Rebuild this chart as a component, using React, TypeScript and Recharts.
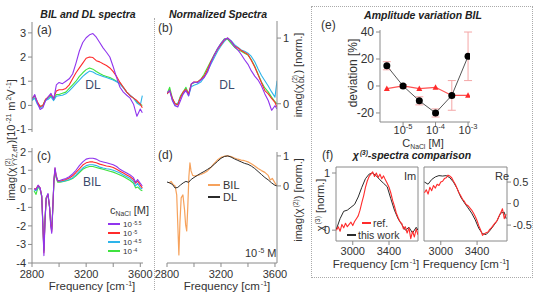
import React from "react";
import { LineChart, Line, XAxis, YAxis, ErrorBar, ReferenceArea } from "recharts";

const W = 534;
const H = 294;
const FONT = '"Liberation Sans", Arial, Helvetica, sans-serif';
const INK = "#333";
const AXIS = "#8a8a8a";
const PURPLE = "#9035ee";
const RED = "#ff2b2b";
const CYAN = "#2db4ea";
const GREEN = "#3fe23f";
const ORANGE = "#f6a25c";
const DARK = "#2b2b2b";
const PINK = "#f4a6a6";
const NAVY = "#3b4a6b";

// ---- DL spectra, panels (a) and (b)
const freqDL = [2800, 2820, 2840, 2860, 2880, 2900, 2920, 2940, 2960, 2980, 3000, 3025, 3050, 3075, 3100, 3125, 3150, 3175, 3200, 3225, 3250, 3275, 3300, 3325, 3350, 3375, 3400, 3425, 3450, 3475, 3500, 3525, 3550, 3575, 3600, 3615];
const dlPurple = [0.25, 0.45, 0.1, -0.17, -0.1, 0.2, 0.35, 0.5, 0.25, 0.85, 0.95, 0.9, 1.0, 1.1, 1.3, 1.75, 2.25, 2.6, 2.8, 2.92, 2.97, 2.82, 2.6, 2.38, 2.2, 2.0, 1.6, 1.15, 0.75, 0.55, 0.42, 0.3, 0.05, -0.45, -0.15, -0.3];
const dlRed = [0.3, 0.4, 0.15, -0.05, 0.0, 0.25, 0.35, 0.45, 0.3, 0.6, 0.65, 0.65, 0.7, 0.85, 1.1, 1.35, 1.55, 1.75, 1.95, 2.0, 1.98, 1.85, 1.8, 1.72, 1.65, 1.55, 1.4, 1.2, 0.95, 0.75, 0.55, 0.4, 0.3, 0.2, 0.05, -0.1];
const dlCyan = [0.2, 0.3, 0.05, -0.1, -0.05, 0.2, 0.25, 0.35, 0.2, 0.38, 0.4, 0.42, 0.48, 0.6, 0.75, 0.9, 1.05, 1.2, 1.32, 1.42, 1.38, 1.3, 1.25, 1.2, 1.15, 1.1, 1.05, 0.98, 0.88, 0.72, 0.55, 0.42, 0.3, 0.1, 0.0, 0.4];
const dlGreen = [0.2, 0.4, 0.1, -0.05, 0.0, 0.25, 0.3, 0.4, 0.25, 0.45, 0.45, 0.5, 0.55, 0.7, 0.85, 1.0, 1.2, 1.35, 1.48, 1.55, 1.5, 1.4, 1.32, 1.25, 1.2, 1.15, 1.08, 1.0, 0.92, 0.75, 0.55, 0.4, 0.3, 0.15, 0.05, 0.0];

const nPurple = [0.17, 0.2, 0.05, -0.03, -0.05, 0.05, 0.15, 0.2, 0.12, 0.3, 0.33, 0.32, 0.36, 0.4, 0.48, 0.62, 0.74, 0.84, 0.92, 0.98, 1.0, 0.95, 0.87, 0.82, 0.75, 0.67, 0.6, 0.5, 0.42, 0.36, 0.27, 0.15, 0.05, -0.1, -0.03, -0.08];
const nRed = [0.15, 0.2, 0.08, 0.0, -0.02, 0.1, 0.18, 0.22, 0.15, 0.3, 0.33, 0.33, 0.37, 0.42, 0.52, 0.64, 0.74, 0.83, 0.9, 0.97, 1.0, 0.95, 0.88, 0.85, 0.81, 0.78, 0.75, 0.66, 0.56, 0.44, 0.32, 0.2, 0.15, 0.08, 0.02, -0.05];
const nCyan = [0.15, 0.2, 0.05, -0.03, 0.0, 0.1, 0.15, 0.22, 0.12, 0.26, 0.28, 0.3, 0.33, 0.4, 0.5, 0.6, 0.7, 0.8, 0.88, 0.95, 1.0, 0.96, 0.9, 0.86, 0.82, 0.8, 0.77, 0.72, 0.64, 0.53, 0.43, 0.35, 0.27, 0.18, 0.1, 0.35];
const nGreen = [0.15, 0.25, 0.08, 0.0, 0.0, 0.12, 0.18, 0.25, 0.15, 0.3, 0.32, 0.33, 0.37, 0.45, 0.55, 0.65, 0.75, 0.84, 0.92, 0.99, 0.98, 0.92, 0.86, 0.82, 0.8, 0.77, 0.74, 0.67, 0.57, 0.45, 0.33, 0.24, 0.18, 0.1, 0.03, 0.0];

// ---- BIL spectra, panels (c) and (d)
const freqBIL = [2815, 2830, 2845, 2860, 2872, 2880, 2888, 2896, 2905, 2918, 2930, 2938, 2946, 2954, 2962, 2970, 2978, 2990, 3005, 3025, 3050, 3075, 3100, 3125, 3150, 3175, 3200, 3225, 3250, 3275, 3300, 3325, 3350, 3375, 3400, 3425, 3450, 3475, 3500, 3525, 3550, 3565, 3580, 3600, 3615];
const bilPurple = [0.0, -0.05, 0.2, 0.05, -0.4, -2.0, -3.6, -1.8, -0.5, -0.25, -1.0, -2.0, -2.4, -1.0, 0.5, 1.15, 0.75, 0.45, 0.45, 0.5, 0.55, 0.65, 0.8, 1.0, 1.25, 1.45, 1.6, 1.65, 1.65, 1.6, 1.5, 1.45, 1.4, 1.35, 1.3, 1.2, 1.05, 0.95, 0.85, 0.75, 0.6, 0.35, 0.5, 0.3, 0.15];
const bilRed = [0.0, 0.0, 0.18, 0.05, -0.4, -1.9, -3.45, -1.7, -0.5, -0.3, -1.0, -1.9, -2.3, -1.0, 0.45, 1.1, 0.7, 0.42, 0.42, 0.45, 0.5, 0.58, 0.7, 0.88, 1.08, 1.28, 1.4, 1.45, 1.45, 1.4, 1.33, 1.28, 1.23, 1.2, 1.15, 1.05, 0.95, 0.85, 0.75, 0.65, 0.5, 0.3, 0.42, 0.2, 0.05];
const bilCyan = [-0.05, -0.1, 0.15, 0.0, -0.4, -1.85, -3.35, -1.65, -0.5, -0.3, -1.0, -1.85, -2.2, -1.0, 0.4, 1.05, 0.65, 0.4, 0.38, 0.4, 0.45, 0.5, 0.6, 0.75, 0.95, 1.12, 1.25, 1.3, 1.3, 1.25, 1.17, 1.12, 1.08, 1.05, 1.0, 0.93, 0.85, 0.75, 0.65, 0.55, 0.4, 0.15, 0.3, 0.05, 0.0];
const bilGreen = [-0.1, -0.3, 0.1, -0.05, -0.45, -1.8, -3.3, -1.6, -0.5, -0.35, -1.0, -1.8, -2.15, -1.0, 0.35, 1.0, 0.6, 0.35, 0.35, 0.38, 0.42, 0.47, 0.55, 0.7, 0.88, 1.05, 1.15, 1.2, 1.2, 1.15, 1.1, 1.05, 1.0, 0.95, 0.9, 0.83, 0.75, 0.66, 0.56, 0.45, 0.3, 0.05, 0.1, -0.05, -0.1];
const bilNorm = [0.1, 0.15, 0.05, 0.0, -0.3, -1.3, -2.3, -1.2, -0.4, -0.3, -0.8, -1.3, -1.5, -0.7, 0.3, 0.77, 0.5, 0.35, 0.33, 0.35, 0.38, 0.43, 0.5, 0.62, 0.75, 0.87, 0.95, 0.99, 1.0, 0.98, 0.93, 0.89, 0.86, 0.84, 0.8, 0.74, 0.66, 0.58, 0.51, 0.45, 0.35, 0.2, 0.25, 0.1, 0.0];
const dlNorm = [0.13, 0.1, 0.05, -0.07, -0.05, 0.03, 0.1, 0.15, 0.12, 0.22, 0.28, 0.35, 0.42, 0.48, 0.55, 0.62, 0.72, 0.82, 0.92, 0.98, 1.0, 0.96, 0.9, 0.85, 0.8, 0.75, 0.72, 0.66, 0.58, 0.48, 0.38, 0.28, 0.2, 0.1, 0.02, 0.0];

// ---- amplitude variation, panel (e)
const concExp = [-5.5, -5, -4.5, -4, -3.5, -3];
const devBIL = [15, 0, -11, -20, -7, 22];
const devErr = [3, 1, 3, 3, 11, 18];
const devRed = [-2, 0, -2, -1, -7, -7];

// ---- chi(3) comparison, panel (f)
const freqWork = [2820, 2860, 2900, 2940, 2980, 3020, 3060, 3100, 3140, 3180, 3220, 3260, 3300, 3340, 3380, 3420, 3460, 3500, 3540, 3580, 3620, 3660, 3700, 3720];
const imWork = [0.02, 0.2, 0.33, 0.35, 0.4, 0.45, 0.58, 0.75, 0.9, 0.98, 1.0, 0.95, 0.88, 0.82, 0.76, 0.55, 0.35, 0.2, 0.1, 0.0, 0.05, -0.05, 0.05, 0.0];
const reWork = [0.5, 0.45, 0.56, 0.62, 0.65, 0.64, 0.65, 0.6, 0.5, 0.35, 0.15, 0.02, -0.1, -0.22, -0.38, -0.58, -0.7, -0.72, -0.63, -0.52, -0.4, -0.22, -0.2, -0.35];
const freqRef = [2820, 2840, 2860, 2880, 2900, 2920, 2940, 2960, 2980, 3000, 3020, 3040, 3060, 3080, 3100, 3120, 3140, 3160, 3180, 3200, 3220, 3240, 3260, 3280, 3300, 3320, 3340, 3360, 3380, 3400, 3420, 3440, 3460, 3480, 3500, 3520, 3540, 3560, 3580, 3600, 3620, 3640, 3660, 3680, 3700, 3720];
const imRef = [0.0, 0.06, -0.02, 0.1, 0.04, 0.12, 0.06, 0.1, 0.14, 0.08, 0.15, 0.2, 0.25, 0.35, 0.48, 0.6, 0.75, 0.86, 0.94, 0.98, 1.02, 0.94, 1.0, 0.92, 0.98, 0.9, 0.95, 0.88, 0.82, 0.75, 0.65, 0.52, 0.42, 0.3, 0.22, 0.15, 0.12, 0.02, 0.06, -0.05, 0.04, -0.15, -0.02, -0.12, 0.02, -0.08];
const reRef = [0.25, 0.32, 0.22, 0.38, 0.3, 0.42, 0.36, 0.45, 0.42, 0.5, 0.52, 0.58, 0.6, 0.66, 0.64, 0.6, 0.52, 0.45, 0.35, 0.25, 0.18, 0.1, 0.05, -0.02, -0.05, -0.1, -0.15, -0.22, -0.3, -0.4, -0.52, -0.62, -0.74, -0.7, -0.68, -0.66, -0.6, -0.56, -0.5, -0.45, -0.4, -0.3, -0.22, -0.12, -0.35, -0.25];

const legendExp = ["-5.5", "-5", "-4.5", "-4"];
const legendColors = [PURPLE, RED, CYAN, GREEN];

const rows = (xs: number[], ys: number[]) => xs.map((x, i) => ({ x, y: ys[i] }));
const devRows = concExp.map((x, i) => ({ x, y: devBIL[i], err: devErr[i] }));
const devRedRows = rows(concExp, devRed);

// plot box in page pixels -> margins of a chart that covers the whole page
const frame = (l: number, t: number, r: number, b: number, yl = 0, yr = 0, xb = 0) => ({
  left: l - yl,
  top: t,
  right: W - r - yr,
  bottom: H - b - xb,
});

const tickStyle = { fill: INK, fontSize: 11, fontFamily: FONT };
const ax = {
  axisLine: { stroke: AXIS },
  tickLine: { stroke: AXIS },
  tick: tickStyle,
  tickSize: 4,
  interval: 0 as const,
  allowDataOverflow: true,
  type: "number" as const,
};

const trace = (data: any[], color: string, width = 1.1) => (
  <Line data={data} dataKey="y" type="linear" stroke={color} strokeWidth={width} strokeLinejoin="round" dot={false} isAnimationActive={false} />
);

const freqFmt = (v: number) => (v % 400 === 0 ? String(v) : "");

function PowTick(props: any) {
  const { x, y, payload } = props;
  return (
    <text x={x} y={y} dy={6} textAnchor="middle" fill={INK} fontSize={11} fontFamily={FONT}>
      10<tspan dy={-5} fontSize={7.5}>{payload.value}</tspan>
    </text>
  );
}

function Tri(props: any) {
  const { cx, cy, index } = props;
  if (cx == null || cy == null) return <g key={`t${index}`} />;
  return <path key={`t${index}`} d={`M${cx},${cy - 3.2}L${cx + 3},${cy + 2.4}L${cx - 3},${cy + 2.4}Z`} fill={RED} />;
}

function Layer({ children }: { children: React.ReactNode }) {
  return <div style={{ position: "absolute", left: 0, top: 0 }}>{children}</div>;
}

function At({ x, y, a = "l", size = 11, rot = false, style, children }: any) {
  const tx = a === "c" ? "-50%" : a === "r" ? "-100%" : "0";
  const transform = rot ? "translate(-50%, -50%) rotate(-90deg)" : `translate(${tx}, -50%)`;
  return (
    <div style={{ position: "absolute", left: x, top: y, transform, fontSize: size, lineHeight: 1, whiteSpace: "nowrap", ...style }}>
      {children}
    </div>
  );
}

const Sup = ({ children, lift = "0.6em" }: any) => (
  <span style={{ fontSize: "0.62em", verticalAlign: lift, lineHeight: 0, marginLeft: 1 }}>{children}</span>
);
const Sub = ({ children }: any) => <span style={{ fontSize: "0.62em", verticalAlign: "-0.3em", lineHeight: 0 }}>{children}</span>;
const Stack = ({ top, bottom }: any) => (
  <span style={{ display: "inline-flex", flexDirection: "column", fontSize: "0.6em", lineHeight: 1.05, verticalAlign: "middle", margin: "0 1px" }}>
    <span>{top}</span>
    <span>{bottom}</span>
  </span>
);
const Swatch = ({ x, y, w, color }: any) => (
  <div style={{ position: "absolute", left: x, top: y - 1, width: w, height: 2, background: color }} />
);
const Freq = () => (
  <>
    Frequency [cm<Sup>-1</Sup>]
  </>
);

const title: React.CSSProperties = { fontWeight: "bold", fontStyle: "italic", color: "#222" };

export default function App() {
  return (
    <div style={{ position: "absolute", left: 0, top: 0, width: W, height: H, background: "#fff", fontFamily: FONT, color: INK, overflow: "hidden" }}>
      {/* (a) BIL and DL spectra, DL */}
      <Layer>
        <LineChart width={W} height={H} margin={frame(32, 22, 143, 132, 30)}>
          <XAxis dataKey="x" type="number" domain={[2800, 3620]} hide height={0} allowDataOverflow />
          <YAxis {...ax} width={30} domain={[-1.1, 3.45]} ticks={[-1, 0, 1, 2, 3]} />
          {trace(rows(freqDL, dlGreen), GREEN)}
          {trace(rows(freqDL, dlCyan), CYAN)}
          {trace(rows(freqDL, dlRed), RED)}
          {trace(rows(freqDL, dlPurple), PURPLE)}
        </LineChart>
      </Layer>

      {/* (c) BIL */}
      <Layer>
        <LineChart width={W} height={H} margin={frame(32, 148, 143, 263, 30, 0, 20)}>
          <XAxis {...ax} dataKey="x" height={20} tickMargin={3} domain={[2800, 3620]} ticks={[2800, 3000, 3200, 3400, 3600]} tickFormatter={freqFmt} />
          <YAxis {...ax} width={30} domain={[-4, 2.2]} ticks={[-4, -3, -2, -1, 0, 1, 2]} />
          {trace(rows(freqBIL, bilGreen), GREEN)}
          {trace(rows(freqBIL, bilCyan), CYAN)}
          {trace(rows(freqBIL, bilRed), RED)}
          {trace(rows(freqBIL, bilPurple), PURPLE)}
        </LineChart>
      </Layer>

      {/* (b) normalized DL */}
      <Layer>
        <LineChart width={W} height={H} margin={frame(167, 21, 277, 130, 0, 30)}>
          <XAxis dataKey="x" type="number" domain={[2800, 3615]} hide height={0} allowDataOverflow />
          <YAxis {...ax} orientation="right" width={30} domain={[-0.4, 1.26]} ticks={[0, 1]} />
          {trace(rows(freqDL, nGreen), GREEN)}
          {trace(rows(freqDL, nCyan), CYAN)}
          {trace(rows(freqDL, nRed), RED)}
          {trace(rows(freqDL, nPurple), PURPLE)}
        </LineChart>
      </Layer>

      {/* (d) normalized BIL vs DL at 10^-5 M */}
      <Layer>
        <LineChart width={W} height={H} margin={frame(167, 152, 277, 263, 0, 30, 20)}>
          <XAxis {...ax} dataKey="x" height={20} tickMargin={3} domain={[2800, 3615]} ticks={[2800, 3000, 3200, 3400, 3600]} tickFormatter={freqFmt} />
          <YAxis {...ax} orientation="right" width={30} domain={[-2.57, 1.13]} ticks={[0, 1]} />
          {trace(rows(freqBIL, bilNorm), ORANGE, 1.2)}
          {trace(rows(freqDL, dlNorm), DARK, 1)}
        </LineChart>
      </Layer>

      {/* (e) amplitude variation */}
      <Layer>
        <LineChart width={W} height={H} margin={frame(380, 30, 470, 122, 30, 0, 20)}>
          <XAxis {...ax} dataKey="x" height={20} domain={[-5.71, -2.94]} ticks={[-5, -4, -3]} tick={(p: any) => <PowTick {...p} />} />
          <YAxis {...ax} width={30} domain={[-26.7, 41.5]} ticks={[-20, 0, 20, 40]} tick={{ ...tickStyle, fontSize: 12 }} />
          <Line data={devRedRows} dataKey="y" stroke="#ff5252" strokeWidth={1.2} dot={(p: any) => <Tri {...p} />} isAnimationActive={false} />
          <Line data={devRows} dataKey="y" stroke="#555" strokeWidth={1} dot={{ r: 3.5, fill: "#000", stroke: "#000", strokeWidth: 0 }} isAnimationActive={false}>
            <ErrorBar dataKey="err" width={4} stroke={PINK} strokeWidth={1} />
          </Line>
        </LineChart>
      </Layer>

      {/* (f) Im */}
      <Layer>
        <LineChart width={W} height={H} margin={frame(336, 167, 418, 241, 20, 0, 16)}>
          <XAxis {...ax} dataKey="x" height={16} axisLine={false} domain={[2815, 3720]} ticks={[3000, 3400]} />
          <YAxis {...ax} width={20} axisLine={false} domain={[-0.19, 1.105]} ticks={[0, 1]} />
          <ReferenceArea x1={2815} x2={3720} y1={-0.19} y2={1.105} fill="none" stroke={AXIS} />
          {trace(rows(freqWork, imWork), DARK, 1)}
          {trace(rows(freqRef, imRef), RED, 1.1)}
        </LineChart>
      </Layer>

      {/* (f) Re */}
      <Layer>
        <LineChart width={W} height={H} margin={frame(424, 167, 507, 241, 0, 20, 16)}>
          <XAxis {...ax} dataKey="x" height={16} axisLine={false} domain={[2815, 3730]} ticks={[3000, 3400]} />
          <YAxis {...ax} orientation="right" width={20} axisLine={false} domain={[-0.87, 0.85]} ticks={[-0.5, 0, 0.5]} />
          <ReferenceArea x1={2815} x2={3730} y1={-0.87} y2={0.85} fill="none" stroke={AXIS} />
          {trace(rows(freqWork, reWork), DARK, 1)}
          {trace(rows(freqRef, reRef), RED, 1.1)}
        </LineChart>
      </Layer>

      {/* separators */}
      <div style={{ position: "absolute", left: 154, top: 18, height: 272, borderLeft: "1px dotted #aaa" }} />
      <div style={{ position: "absolute", left: 311, top: 6, width: 220, height: 270, border: "1px dotted #aaa" }} />

      {/* titles */}
      <At x={88} y={14} a="c" size={10.5} style={title}>BIL and DL spectra</At>
      <At x={218} y={14} a="c" size={10.5} style={title}>Normalized Spectra</At>
      <At x={423} y={15} a="c" size={10.5} style={title}>Amplitude variation BIL</At>
      <At x={412} y={155} a="c" size={10.5} style={title}>
        χ<Sup>(3)</Sup>-spectra comparison
      </At>

      {/* panel letters */}
      <At x={37} y={30} size={12}>(a)</At>
      <At x={158} y={28} size={12}>(b)</At>
      <At x={37} y={156} size={12}>(c)</At>
      <At x={158} y={155} size={12}>(d)</At>
      <At x={321} y={25} size={12}>(e)</At>
      <At x={322} y={155} size={12}>(f)</At>

      {/* in-plot labels */}
      <At x={93} y={85} a="c" size={12} style={{ color: NAVY }}>DL</At>
      <At x={92} y={182} a="c" size={12} style={{ color: NAVY }}>BIL</At>
      <At x={227} y={85} a="c" size={12} style={{ color: NAVY }}>DL</At>
      <At x={245} y={253} size={11}>
        10<Sup>-5</Sup> M
      </At>

      {/* legend (c) */}
      <At x={110} y={210} size={11}>
        c<Sub>NaCl</Sub> [M]
      </At>
      {legendExp.map((e, i) => (
        <React.Fragment key={e}>
          <Swatch x={108} y={224 + i * 9} w={12} color={legendColors[i]} />
          <At x={123} y={225 + i * 9} size={8}>
            10<Sup lift="0.45em">{e}</Sup>
          </At>
        </React.Fragment>
      ))}

      {/* legend (d) */}
      <Swatch x={208} y={185} w={12} color={ORANGE} />
      <At x={223} y={185} size={11}>BIL</At>
      <Swatch x={208} y={197} w={12} color={DARK} />
      <At x={223} y={197} size={11}>DL</At>

      {/* legend (f) */}
      <Swatch x={362} y={223} w={9} color={RED} />
      <At x={373} y={223} size={10.5}>ref.</At>
      <Swatch x={347} y={235} w={9} color={DARK} />
      <At x={358} y={235} size={10.5}>this work</At>
      <At x={404} y={176} size={11}>Im</At>
      <At x={495} y={176} size={11}>Re</At>

      {/* axis titles */}
      <At x={92} y={287} a="c" size={11.5}><Freq /></At>
      <At x={227} y={287} a="c" size={11.5}><Freq /></At>
      <At x={376} y={265} a="c" size={11.5}><Freq /></At>
      <At x={466} y={265} a="c" size={11.5}><Freq /></At>
      <At x={423} y={143} a="c" size={11}>
        C<Sub>NaCl</Sub> [M]
      </At>

      <At x={12} y={140} rot size={11}>
        imag(χ<Stack top="(2)" bottom="YYZ,eff" />)[10<Sup>-21</Sup> m<Sup>2</Sup>V<Sup>-1</Sup>]
      </At>
      <At x={299} y={75} rot size={11}>
        imag(χ<Stack top="(2)" bottom="DL" />) [norm.]
      </At>
      <At x={298} y={200} rot size={11}>
        imag(χ<Sup>(2)</Sup>) [norm.]
      </At>
      <At x={353} y={73} rot size={12}>deviation [%]</At>
      <At x={320} y={205} rot size={11}>
        χ<Sup>(3)</Sup> [norm.]
      </At>
    </div>
  );
}
